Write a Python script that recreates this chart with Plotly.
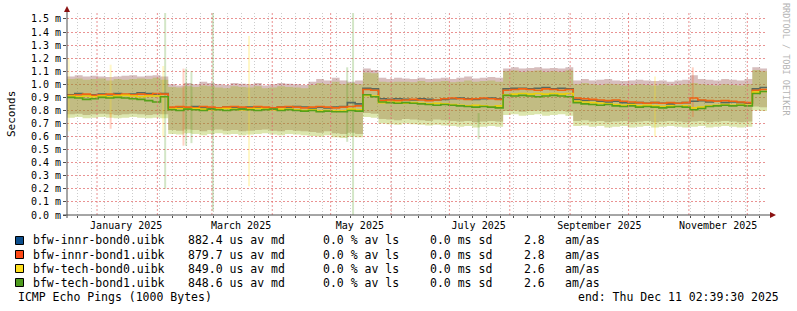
import plotly.graph_objects as go
import pandas as pd

# ---------------- data ----------------
t_start = "2024-12-16 14:00"
t_end = "2025-12-11 02:39:30"

names = ["bfw-innr-bond0.uibk", "bfw-innr-bond1.uibk", "bfw-tech-bond0.uibk", "bfw-tech-bond1.uibk"]
avg_md = ["882.4 us av md", "879.7 us av md", "849.0 us av md", "848.6 us av md"]
avg_ls = ["0.0 % av ls"] * 4
avg_sd = ["0.0 ms sd"] * 4
am_as = ["2.8", "2.8", "2.6", "2.6"]

# medians (ms), 4-day bins starting at t_start
innr0_med = [0.92, 0.93, 0.92, 0.92, 0.925, 0.92, 0.93, 0.92, 0.925, 0.935, 0.93, 0.925, 0.93,
             0.82, 0.825, 0.82, 0.83, 0.82, 0.815, 0.82, 0.825, 0.82, 0.82, 0.825, 0.82, 0.815, 0.82, 0.825, 0.82, 0.83, 0.825, 0.82, 0.825, 0.82, 0.825,
             0.83, 0.86, 0.85,
             0.97, 0.965,
             0.89, 0.885, 0.89, 0.885, 0.88, 0.89, 0.885, 0.88, 0.885, 0.89, 0.895, 0.89, 0.885, 0.89, 0.895, 0.89,
             0.965, 0.97, 0.97, 0.965, 0.97, 0.975, 0.965, 0.97, 0.965,
             0.885, 0.875, 0.88, 0.87, 0.865, 0.87, 0.86, 0.855, 0.86, 0.855, 0.86, 0.855, 0.85, 0.855, 0.86,
             0.87, 0.875, 0.865, 0.87, 0.86, 0.865, 0.86, 0.855,
             0.965, 0.975]
innr1_med = [0.915, 0.92, 0.925, 0.915, 0.92, 0.925, 0.92, 0.925, 0.92, 0.925, 0.92, 0.93, 0.925,
             0.825, 0.83, 0.825, 0.82, 0.83, 0.825, 0.82, 0.825, 0.83, 0.825, 0.82, 0.83, 0.825, 0.82, 0.825, 0.83, 0.825, 0.82, 0.825, 0.83, 0.825, 0.82,
             0.825, 0.83, 0.835,
             0.96, 0.955,
             0.875, 0.88, 0.875, 0.88, 0.885, 0.88, 0.875, 0.88, 0.89, 0.895, 0.89, 0.885, 0.89, 0.895, 0.89, 0.885,
             0.955, 0.96, 0.965, 0.96, 0.955, 0.965, 0.96, 0.955, 0.96,
             0.895, 0.89, 0.885, 0.88, 0.875, 0.88, 0.87, 0.865, 0.86, 0.855, 0.86, 0.855, 0.86, 0.855, 0.86,
             0.895, 0.88, 0.875, 0.87, 0.875, 0.87, 0.865, 0.86,
             0.955, 0.96]
tech0_med = [0.91, 0.905, 0.91, 0.905, 0.91, 0.905, 0.91, 0.915, 0.91, 0.905, 0.91, 0.91, 0.905,
             0.81, 0.815, 0.81, 0.815, 0.81, 0.805, 0.81, 0.815, 0.81, 0.805, 0.81, 0.815, 0.81, 0.805, 0.81, 0.81, 0.805, 0.8, 0.805, 0.795, 0.8, 0.795,
             0.795, 0.81, 0.805,
             0.915, 0.91,
             0.86, 0.865, 0.86, 0.855, 0.86, 0.855, 0.85, 0.855, 0.85, 0.845, 0.84, 0.835, 0.84, 0.835, 0.83, 0.835,
             0.92, 0.925, 0.93, 0.925, 0.93, 0.925, 0.93, 0.925, 0.93,
             0.87, 0.865, 0.86, 0.855, 0.85, 0.845, 0.84, 0.845, 0.835, 0.84, 0.835, 0.83, 0.835, 0.83, 0.835,
             0.82, 0.825, 0.835, 0.84, 0.845, 0.84, 0.845, 0.84,
             0.94, 0.945]
tech1_med = [0.90, 0.895, 0.885, 0.89, 0.90, 0.895, 0.90, 0.895, 0.89, 0.885, 0.875, 0.865, 0.905,
             0.805, 0.80, 0.81, 0.805, 0.80, 0.81, 0.805, 0.80, 0.805, 0.81, 0.805, 0.80, 0.805, 0.81, 0.80, 0.805, 0.80, 0.795, 0.80, 0.79, 0.795, 0.79,
             0.79, 0.80, 0.795,
             0.92, 0.905,
             0.865, 0.86, 0.855, 0.86, 0.855, 0.85, 0.845, 0.84, 0.845, 0.84, 0.835, 0.83, 0.825, 0.83, 0.825, 0.82,
             0.915, 0.91, 0.915, 0.91, 0.905, 0.91, 0.915, 0.91, 0.905,
             0.86, 0.85, 0.845, 0.84, 0.845, 0.835, 0.83, 0.835, 0.825, 0.83, 0.825, 0.82, 0.825, 0.83, 0.825,
             0.805, 0.815, 0.83, 0.835, 0.84, 0.835, 0.84, 0.835,
             0.93, 0.945]

# smoke envelopes (ms)
innr_hi = [1.06, 1.07, 1.06, 1.065, 1.06, 1.055, 1.06, 1.065, 1.07, 1.06, 1.065, 1.07, 1.06,
           1.00, 0.99, 1.01, 1.0, 1.02, 1.01, 1.0, 0.995, 1.01, 1.005, 1.0, 1.01, 0.99, 1.0, 1.01, 1.005, 1.0, 0.995, 1.02, 1.04, 1.03, 1.05,
           1.03, 1.02, 1.03,
           1.12, 1.11,
           1.05, 1.04, 1.05, 1.045, 1.04, 1.05, 1.04, 1.045, 1.05, 1.04, 1.05, 1.06, 1.045, 1.05, 1.055, 1.05,
           1.12, 1.13, 1.12, 1.125, 1.13, 1.12, 1.125, 1.12, 1.13,
           1.03, 1.04, 1.03, 1.035, 1.04, 1.03, 1.025, 1.03, 1.035, 1.03, 1.025, 1.03, 1.02, 1.03, 1.035,
           1.07, 1.04, 1.035, 1.03, 1.04, 1.035, 1.03, 1.04,
           1.13, 1.12]
tech_hi = [1.04, 1.045, 1.035, 1.04, 1.045, 1.03, 1.04, 1.035, 1.04, 1.045, 1.04, 1.05, 1.035,
           0.98, 0.975, 0.985, 0.98, 0.99, 0.985, 0.975, 0.97, 0.985, 0.98, 0.975, 0.985, 0.97, 0.975, 0.985, 0.98, 0.975, 0.97, 0.995, 1.01, 1.0, 1.02,
           1.0, 1.01, 1.0,
           1.09, 1.085,
           1.02, 1.015, 1.02, 1.02, 1.015, 1.025, 1.015, 1.02, 1.025, 1.015, 1.02, 1.03, 1.02, 1.025, 1.03, 1.02,
           1.10, 1.105, 1.095, 1.10, 1.105, 1.095, 1.10, 1.095, 1.105,
           1.0, 1.01, 1.0, 0.995, 1.005, 1.0, 0.99, 0.995, 1.0, 0.995, 0.99, 1.0, 0.99, 0.995, 1.0,
           1.01, 1.0, 0.995, 0.99, 1.0, 0.995, 0.99, 1.0,
           1.11, 1.10]
innr_lo = [0.77, 0.775, 0.765, 0.77, 0.775, 0.77, 0.765, 0.77, 0.775, 0.77, 0.765, 0.77, 0.77,
           0.65, 0.645, 0.655, 0.65, 0.64, 0.65, 0.655, 0.645, 0.65, 0.64, 0.645, 0.65, 0.655, 0.645, 0.64, 0.65, 0.645, 0.64, 0.635, 0.63, 0.64, 0.625,
           0.62, 0.63, 0.62,
           0.78, 0.775,
           0.735, 0.73, 0.725, 0.735, 0.73, 0.725, 0.72, 0.73, 0.725, 0.72, 0.715, 0.72, 0.71, 0.715, 0.72, 0.715,
           0.795, 0.80, 0.79, 0.795, 0.80, 0.79, 0.795, 0.80, 0.79,
           0.72, 0.725, 0.715, 0.72, 0.71, 0.715, 0.72, 0.71, 0.715, 0.72, 0.71, 0.715, 0.72, 0.715, 0.71,
           0.715, 0.72, 0.71, 0.715, 0.72, 0.715, 0.71, 0.715,
           0.83, 0.825]
tech_lo = [0.745, 0.75, 0.74, 0.745, 0.75, 0.745, 0.74, 0.745, 0.75, 0.745, 0.74, 0.745, 0.74,
           0.62, 0.615, 0.625, 0.62, 0.61, 0.62, 0.625, 0.615, 0.62, 0.61, 0.615, 0.62, 0.625, 0.615, 0.61, 0.62, 0.615, 0.61, 0.605, 0.60, 0.61, 0.595,
           0.59, 0.60, 0.595,
           0.75, 0.745,
           0.70, 0.695, 0.69, 0.70, 0.695, 0.69, 0.685, 0.69, 0.685, 0.68, 0.675, 0.68, 0.67, 0.675, 0.68, 0.675,
           0.765, 0.77, 0.76, 0.765, 0.77, 0.76, 0.765, 0.77, 0.76,
           0.68, 0.685, 0.675, 0.68, 0.67, 0.675, 0.68, 0.67, 0.675, 0.68, 0.67, 0.675, 0.68, 0.675, 0.67,
           0.675, 0.68, 0.67, 0.675, 0.68, 0.675, 0.67, 0.675,
           0.80, 0.795]

# isolated outlier spikes (ms)
spike_time = ["2024-12-17 12:00", "2025-01-08 00:00", "2025-01-08 00:00", "2025-02-04 00:00", "2025-02-05 00:00",
              "2025-02-14 10:00", "2025-02-15 18:00", "2025-02-18 12:00", "2025-03-01 12:00", "2025-03-20 02:00",
              "2025-05-09 12:00", "2025-05-12 12:00", "2025-07-16 00:00", "2025-10-14 14:00", "2025-11-03 00:00"]
spike_lo = [0.64, 0.75, 0.66, 0.60, 0.20, 0.53, 0.53, 0.55, 0.03, 0.22, 0.56, 0.00, 0.58, 0.60, 0.75]
spike_hi = [1.20, 1.15, 0.78, 1.14, 1.55, 1.12, 1.12, 1.10, 1.55, 1.37, 1.13, 1.55, 0.78, 1.06, 1.13]
spike_host = [2, 2, 1, 2, 3, 1, 3, 3, 3, 2, 3, 3, 3, 2, 1]

y_ticks = [0.0, 0.1, 0.2, 0.3, 0.4, 0.5, 0.6, 0.7, 0.8, 0.9, 1.0, 1.1, 1.2, 1.3, 1.4, 1.5]
x_label_dates = ["2025-01-16", "2025-03-16", "2025-05-16", "2025-07-16", "2025-09-16", "2025-11-16"]
x_label_text = ["January 2025", "March 2025", "May 2025", "July 2025", "September 2025", "November 2025"]
month_lines = pd.date_range("2025-01-01", periods=12, freq="MS")

# ---------------- styling ----------------
host_rgb = [(11, 77, 140), (255, 74, 22), (255, 224, 30), (78, 155, 30)]
line_col = ["#56695f", "#f06414", "#e9cf0c", "#55a01a"]
mono = "DejaVu Sans Mono"

PX_L, PX_R, PX_T, PX_B = 67, 767, 13, 215
W, H = 797, 311
def px(x):
    return (x - PX_L) / (PX_R - PX_L)
def py(y):
    return (PX_B - y) / (PX_B - PX_T)

bins = list(pd.date_range(t_start, periods=len(innr0_med), freq="4D"))
edges = bins + [bins[-1] + pd.Timedelta(days=4)]
def ext(v):
    return list(v) + [v[-1]]

meds = [innr0_med, innr1_med, tech0_med, tech1_med]
his = [innr_hi, innr_hi, tech_hi, tech_hi]
los = [innr_lo, innr_lo, tech_lo, tech_lo]

fig = go.Figure()
for k in range(4):
    r, g, b = host_rgb[k]
    fig.add_trace(go.Scatter(x=edges, y=ext(los[k]), mode="lines", line=dict(width=0, shape="hv"),
                             hoverinfo="skip", showlegend=False))
    fig.add_trace(go.Scatter(x=edges, y=ext(his[k]), mode="lines", line=dict(width=0, shape="hv"),
                             fill="tonexty", fillcolor=f"rgba({r},{g},{b},0.2)",
                             hoverinfo="skip", showlegend=False))

for k in range(4):
    xs, ys = [], []
    for t, lo, hi, h in zip(spike_time, spike_lo, spike_hi, spike_host):
        if h == k:
            xs += [t, t, None]
            ys += [lo, hi, None]
    if xs:
        r, g, b = host_rgb[k]
        fig.add_trace(go.Scatter(x=xs, y=ys, mode="lines", line=dict(width=2, color=f"rgba({r},{g},{b},0.25)"),
                                 hoverinfo="skip", showlegend=False))

for k in range(4):
    fig.add_trace(go.Scatter(x=edges, y=ext(meds[k]), mode="lines",
                             line=dict(width=1.6, shape="hv", color=line_col[k]),
                             name=names[k], showlegend=False))

shapes = []
for m in month_lines:
    shapes.append(dict(type="line", xref="x", yref="paper", x0=m, x1=m, y0=0, y1=1,
                       line=dict(color="rgba(225,110,110,0.75)", width=1, dash="2px,2px"), layer="above"))
# axes with arrows
axc = "#4d4d4d"
shapes.append(dict(type="line", xref="paper", yref="paper", x0=px(67), x1=px(67), y0=py(218), y1=py(9),
                   line=dict(color=axc, width=1)))
shapes.append(dict(type="line", xref="paper", yref="paper", x0=px(63), x1=px(771), y0=py(215), y1=py(215),
                   line=dict(color=axc, width=1)))
shapes.append(dict(type="path", xref="paper", yref="paper",
                   path=f"M {px(64)} {py(12)} L {px(70)} {py(12)} L {px(67)} {py(6)} Z",
                   fillcolor="#8b1212", line=dict(width=0)))
shapes.append(dict(type="path", xref="paper", yref="paper",
                   path=f"M {px(770)} {py(212)} L {px(770)} {py(218)} L {px(776)} {py(215)} Z",
                   fillcolor="#8b1212", line=dict(width=0)))

annotations = []
row_y = [240.5, 254.5, 268.5, 282.5]
cols = [(30.5, names), (185.5, avg_md), (321, avg_ls), (428, avg_sd), (521.5, am_as), (563, ["am/as"] * 4)]
for i in range(4):
    r, g, b = host_rgb[i]
    shapes.append(dict(type="rect", xref="paper", yref="paper", x0=px(15.5), x1=px(23.5),
                       y0=py(row_y[i] - 4), y1=py(row_y[i] + 4),
                       fillcolor=f"rgb({r},{g},{b})", line=dict(color="#000", width=1)))
    for cx, texts in cols:
        annotations.append(dict(xref="paper", yref="paper", x=px(cx), y=py(row_y[i]), text=texts[i],
                                showarrow=False, xanchor="left", yanchor="middle",
                                font=dict(family=mono, size=11.5, color="#000")))
annotations.append(dict(xref="paper", yref="paper", x=px(16), y=py(297), text="ICMP Echo Pings (1000 Bytes)",
                        showarrow=False, xanchor="left", yanchor="middle",
                        font=dict(family=mono, size=11.5, color="#000")))
annotations.append(dict(xref="paper", yref="paper", x=px(781), y=py(297), text="end: Thu Dec 11 02:39:30 2025",
                        showarrow=False, xanchor="right", yanchor="middle",
                        font=dict(family=mono, size=11.5, color="#000")))
annotations.append(dict(xref="paper", yref="paper", x=px(11), y=py(114), text="Seconds", textangle=-90,
                        showarrow=False, xanchor="center", yanchor="middle",
                        font=dict(family=mono, size=11, color="#000")))
annotations.append(dict(xref="paper", yref="paper", x=px(786), y=py(59), text="RRDTOOL / TOBI OETIKER", textangle=90,
                        showarrow=False, xanchor="center", yanchor="middle",
                        font=dict(family=mono, size=8.5, color="#b4b4b4")))

fig.update_layout(
    width=W, height=H,
    margin=dict(l=PX_L, r=W - PX_R, t=PX_T, b=H - PX_B, autoexpand=False),
    paper_bgcolor="white", plot_bgcolor="white",
    showlegend=False,
    shapes=shapes, annotations=annotations,
    xaxis=dict(type="date", range=[t_start, t_end], showgrid=False, zeroline=False, showline=False,
               tickmode="array", tickvals=x_label_dates, ticktext=x_label_text, ticks="",
               ticklabelstandoff=3,
               tickfont=dict(family=mono, size=10, color="#000"),
               minor=dict(tickmode="linear", tick0="2024-12-22", dtick=7 * 86400000,
                          showgrid=True, gridcolor="rgba(170,170,170,0.6)", griddash="1px,2px",
                          ticks="outside", ticklen=2, tickcolor=axc)),
    yaxis=dict(range=[0, (PX_B - PX_T) / 130.7], tickmode="array", tickvals=y_ticks,
               ticktext=[f"{v:.1f} m" for v in y_ticks], showgrid=True,
               gridcolor="rgba(225,110,110,0.75)", griddash="2px,2px", zeroline=False, showline=False,
               ticks="outside", ticklen=3, tickcolor=axc,
               tickfont=dict(family=mono, size=10, color="#000")),
)

fig.write_html("out.html")
